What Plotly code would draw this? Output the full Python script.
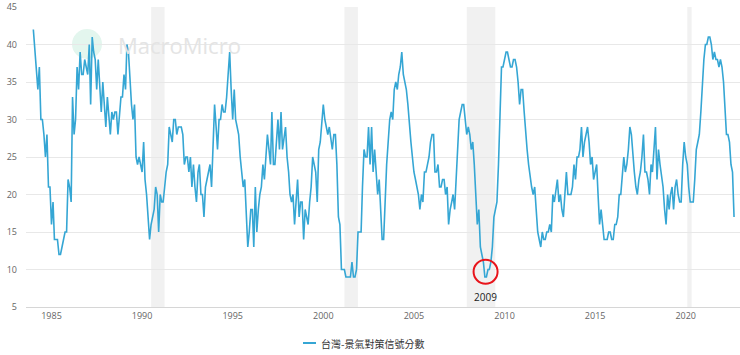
import pandas as pd
import plotly.graph_objects as go

# Monthly Taiwan business monitoring indicator score, starting Jan 1984
start_month = "1984-01-01"
s1984_1989 = [
    42, 39, 37, 34, 37, 30, 30, 28, 25, 28, 21, 21,   # 1984
    16, 19, 14, 14, 14, 12, 12, 13, 14, 15, 15, 22,   # 1985
    21, 19, 33, 28, 30, 37, 34, 39, 36, 36, 38, 37,   # 1986
    36, 40, 32, 41, 39, 38, 34, 38, 35, 31, 35, 32,   # 1987
    29, 33, 30, 28, 31, 30, 31, 31, 28, 31, 33, 33,   # 1988
    36, 34, 40, 39, 35, 32, 30, 32, 25, 24, 25, 24,   # 1989
]
s1990s = [
    23, 27, 22, 20, 17, 14, 16, 17, 18, 21, 20, 15,   # 1990
    20, 19, 19, 21, 23, 24, 29, 28, 27, 30, 30, 28,   # 1991
    29, 29, 29, 28, 24, 25, 25, 23, 25, 21, 24, 21,   # 1992
    19, 23, 24, 20, 20, 17, 21, 22, 23, 24, 21, 27,   # 1993
    32, 29, 26, 30, 30, 32, 31, 31, 33, 36, 39, 34,   # 1994
    30, 34, 30, 29, 28, 25, 23, 21, 22, 17, 13, 15,   # 1995
    18, 18, 13, 21, 15, 18, 20, 21, 24, 22, 26, 28,   # 1996
    26, 24, 31, 24, 24, 27, 30, 26, 31, 26, 28, 29,   # 1997
    25, 23, 20, 19, 20, 16, 19, 22, 17, 19, 19, 14,   # 1998
    18, 17, 16, 19, 21, 25, 24, 23, 19, 26, 27, 30,   # 1999
]
s2000s = [
    32, 30, 29, 28, 29, 27, 26, 28, 28, 24, 17, 16,   # 2000
    10, 10, 10, 9, 9, 9, 9, 11, 9, 9, 10, 15,         # 2001
    15, 15, 21, 26, 25, 25, 29, 24, 29, 23, 26, 23,   # 2002
    20, 22, 18, 14, 14, 20, 24, 27, 30, 31, 30, 34,   # 2003
    35, 34, 36, 37, 39, 36, 35, 34, 32, 29, 27, 25,   # 2004
    23, 22, 21, 20, 18, 20, 19, 23, 23, 24, 25, 27,   # 2005
    28, 28, 23, 23, 24, 21, 21, 22, 22, 20, 21, 16,   # 2006
    18, 19, 20, 18, 22, 27, 30, 31, 32, 32, 30, 28,   # 2007
    29, 28, 26, 27, 24, 19, 16, 18, 13, 12, 11, 9,    # 2008
    9, 10, 10, 11, 13, 17, 18, 19, 24, 30, 37, 37,    # 2009
]
s2010s = [
    38, 39, 39, 38, 37, 37, 38, 38, 37, 35, 32, 34,   # 2010
    34, 31, 28, 26, 24, 22, 21, 20, 21, 18, 15, 14,   # 2011
    13, 15, 14, 14, 15, 15, 16, 15, 20, 19, 21, 22,   # 2012
    19, 20, 18, 17, 20, 23, 20, 20, 20, 21, 24, 22,   # 2013
    25, 25, 26, 29, 25, 27, 28, 29, 27, 24, 25, 22,   # 2014
    23, 24, 20, 16, 18, 16, 14, 14, 14, 15, 15, 14,   # 2015
    14, 16, 16, 17, 20, 20, 23, 25, 23, 24, 26, 29,   # 2016
    28, 25, 23, 21, 20, 22, 23, 25, 28, 23, 23, 22,   # 2017
    20, 24, 23, 26, 29, 22, 26, 24, 22, 21, 18, 16,   # 2018
    20, 18, 20, 21, 18, 21, 22, 20, 19, 19, 24, 27,   # 2019
]
s2020s = [
    25, 24, 21, 19, 19, 19, 22, 26, 27, 28, 31, 35,   # 2020
    38, 40, 40, 41, 41, 40, 38, 39, 38, 38, 37, 38,   # 2021
    37, 35, 32, 28, 28, 27, 24, 23, 17,               # 2022
]

series_name = "台灣-景氣對策信號分數"
rec_start = ["1990-07-01", "2001-03-01", "2007-12-01", "2020-02-01"]
rec_end = ["1991-03-31", "2001-11-30", "2009-06-30", "2020-04-30"]
highlight_date = "2008-12-15"
highlight_value = 9.7
highlight_label = "2009"
y_ticks = [5, 10, 15, 20, 25, 30, 35, 40, 45]

values = s1984_1989 + s1990s + s2000s + s2010s + s2020s
dates = pd.date_range(start_month, periods=len(values), freq="MS")

W, H = 740, 355
ML, MR, MT, MB = 26, 0, 7, 48
PW, PH = W - ML - MR, H - MT - MB


def px(xp):
    return (xp - ML) / PW


def py(yp):
    return (H - MB - yp) / PH


fig = go.Figure()
fig.add_trace(go.Scatter(
    x=dates, y=values, mode="lines", name=series_name,
    line=dict(color="#35a6d4", width=1.6), showlegend=False,
))

for s, e in zip(rec_start, rec_end):
    fig.add_vrect(x0=s, x1=e, fillcolor="#000000", opacity=0.055,
                  line_width=0, layer="below")

# watermark
fig.add_shape(type="circle", xref="paper", yref="paper",
              x0=px(72), x1=px(102), y0=py(59), y1=py(29),
              fillcolor="#e3f6ee", line_width=0, layer="below")
fig.add_annotation(xref="paper", yref="paper", x=px(116), y=py(45),
                   xanchor="left", yanchor="middle", showarrow=False,
                   text="MacroMicro",
                   font=dict(family="Open Sans", size=22, color="#e4e4e4"))

# highlight circle and label
fig.add_shape(type="circle", xref="x", yref="y",
              xsizemode="pixel", ysizemode="pixel",
              xanchor=highlight_date, yanchor=highlight_value,
              x0=-12, x1=12, y0=-12, y1=12,
              line=dict(color="#e8141b", width=2))
fig.add_annotation(x=highlight_date, y=highlight_value, yshift=-25,
                   text=highlight_label, showarrow=False,
                   font=dict(family="Open Sans", size=10, color="#222222"))

# custom legend
fig.add_shape(type="line", xref="paper", yref="paper",
              x0=px(303), x1=px(316), y0=py(343), y1=py(343),
              line=dict(color="#35a6d4", width=2))
fig.add_annotation(xref="paper", yref="paper", x=px(319), y=py(343),
                   xanchor="left", yanchor="middle", showarrow=False,
                   text=series_name,
                   font=dict(family="Noto Sans CJK TC", size=10, color="#333333"))

fig.update_layout(
    width=W, height=H,
    margin=dict(l=ML, r=MR, t=MT, b=MB),
    plot_bgcolor="white", paper_bgcolor="white",
    font=dict(family="Open Sans", size=9, color="#666666"),
    showlegend=False,
)
fig.update_xaxes(
    type="date", range=["1983-08-06", "2022-12-30"],
    tick0="1985-01-01", dtick="M60", tickformat="%Y",
    showgrid=False, showline=True, linecolor="#d6d6d6", linewidth=1,
    ticks="", tickfont=dict(size=9, color="#666666"), zeroline=False,
)
fig.update_yaxes(
    range=[5, 45], tickvals=y_ticks,
    showgrid=True, gridcolor="#e8e8e8", gridwidth=1, zeroline=False,
    ticks="", tickfont=dict(size=9, color="#666666"), ticklabelstandoff=8,
)

fig.write_html("out.html")
